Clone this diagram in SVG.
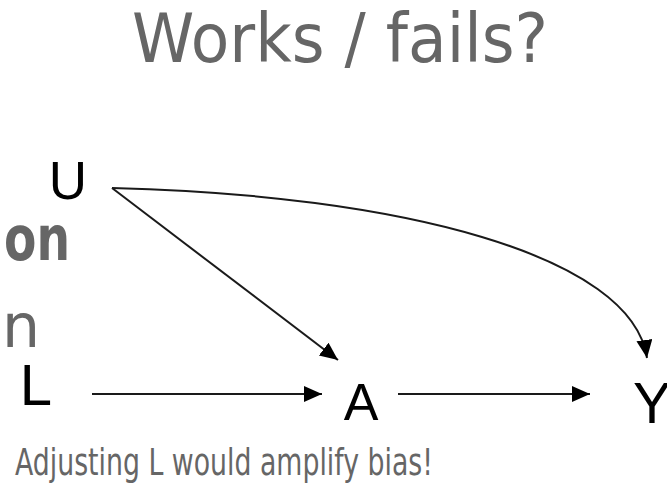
<svg xmlns="http://www.w3.org/2000/svg" width="667" height="484" viewBox="0 0 667 484">
  <style>
    .grey { fill: #666666; font-family: "DejaVu Sans", "Liberation Sans", sans-serif; }
    .node { fill: #000000; font-family: "Liberation Sans", Arial, sans-serif; text-anchor: middle; }
    .edge { fill: none; stroke: #1a1a1a; stroke-width: 2; }
  </style>
  <defs>
    <marker id="arrow" markerUnits="userSpaceOnUse" markerWidth="20" markerHeight="18" refX="18" refY="8" orient="auto">
      <path d="M0,0 L18,8 L0,16 Z" fill="#000000"/>
    </marker>
  </defs>
  <rect width="667" height="484" fill="#ffffff"/>

  <text class="grey" x="132" y="62" font-size="68" textLength="416" lengthAdjust="spacingAndGlyphs">Works / fails?</text>
  <text class="grey" x="4" y="260" font-size="62" font-weight="bold" textLength="66" lengthAdjust="spacingAndGlyphs">on</text>
  <text class="grey" x="2" y="347" font-size="60" font-family="Liberation Sans, sans-serif">n</text>
  <text class="grey" x="15" y="475" font-size="38" textLength="418" lengthAdjust="spacingAndGlyphs">Adjusting L would amplify bias!</text>

  <g id="edges">
    <path class="edge" d="M92,394 L322,394" marker-end="url(#arrow)"/>
    <path class="edge" d="M398,394 L590,394" marker-end="url(#arrow)"/>
    <path class="edge" d="M112,188 L338,360" marker-end="url(#arrow)"/>
    <path class="edge" d="M112,188 C400,195 632,255 647,358" marker-end="url(#arrow)"/>
  </g>

  <g id="node-U"><text class="node" x="68" y="199" font-size="53">U</text></g>
  <g id="node-L"><text class="node" x="36" y="405" font-size="58">L</text></g>
  <g id="node-A"><text class="node" x="361" y="420" font-size="52">A</text></g>
  <g id="node-Y"><text class="node" x="652" y="423" font-size="57">Y</text></g>
</svg>
